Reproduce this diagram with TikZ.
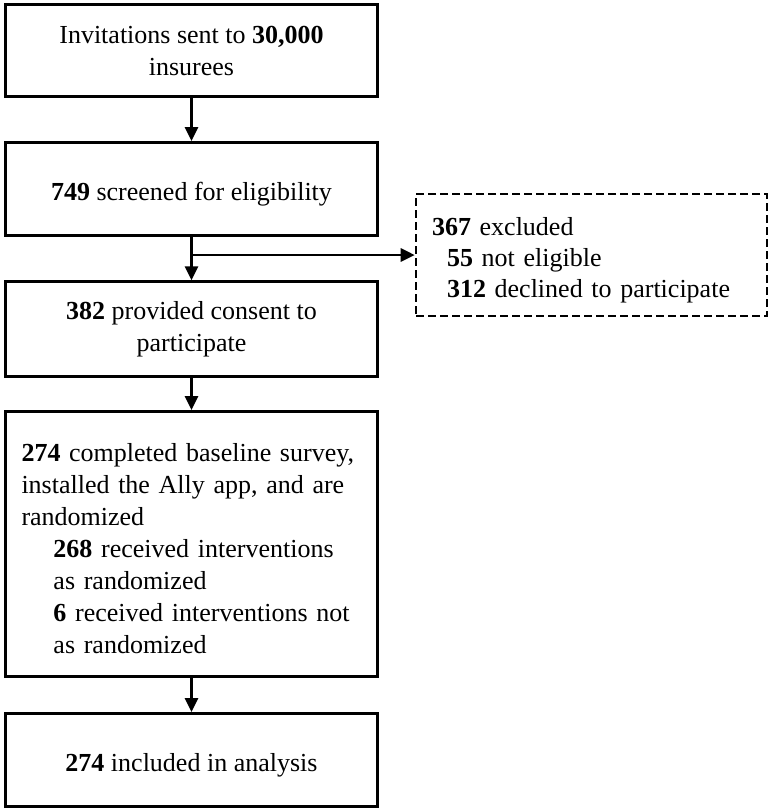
\documentclass[tikz,border=0pt]{standalone}
\usepackage{fontspec}
\setmainfont{Liberation Serif}
\usetikzlibrary{arrows.meta,positioning}

\begin{document}
\begin{tikzpicture}[x=1pt,y=-1pt,
  every node/.style={font=\fontsize{26}{32}\selectfont,
    execute at begin node={\rule{0pt}{28pt}}},
  stage/.style={draw,line width=3pt,minimum width=371.5pt,inner xsep=15.5pt,align=center},
  excluded/.style={draw,line width=2.6pt,dash pattern=on 8pt off 4pt,minimum width=351pt,
    minimum height=122pt,inner xsep=16pt,text width=319pt,align=left,
    font=\fontsize{26}{31}\selectfont},
  to/.style={-{Triangle[length=14pt,width=13pt]},line width=2.8pt}]

  \useasboundingbox (0,0) rectangle (772,812);

  % Flow of participants, top to bottom
  \node[stage,minimum height=92pt] (invite) at (191.5,50.5)
    {Invitations sent to \textbf{30,000}\\insurees};
  \node[stage,minimum height=93pt] (screen) at (191.5,189)
    {\textbf{749} screened for eligibility};
  \node[stage,minimum height=94.5pt] (consent) at (191.5,329)
    {\textbf{382} provided consent to\\participate};
  \node[stage,minimum height=265pt,text width=340pt,align=left] (random) at (191.5,544)
    {\textbf{274} completed baseline survey,\\
     installed the Ally app, and are\\
     randomized\\
     \hspace*{32pt}\textbf{268} received interventions\\
     \hspace*{32pt}as randomized\\
     \hspace*{32pt}\textbf{6} received interventions not\\
     \hspace*{32pt}as randomized};
  \node[stage,minimum height=93pt] (analysis) at (191.5,760)
    {\textbf{274} included in analysis};

  % Exclusions on the side
  \node[excluded] (excl) at (591.5,255)
    {\textbf{367} excluded\\
     \hspace*{15pt}\textbf{55} not eligible\\
     \hspace*{15pt}\textbf{312} declined to participate};

  % Arrows between the stages
  \draw[to] (invite) -- (screen);
  \draw[to] (screen) -- (consent);
  \draw[to] (screen.south |- excl.west) -- (excl.west);
  \draw[to] (consent) -- (random);
  \draw[to] (random) -- (analysis);

\end{tikzpicture}
\end{document}
